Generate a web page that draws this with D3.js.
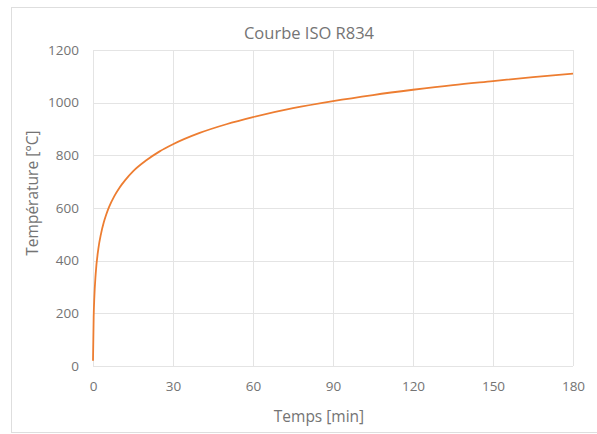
<!DOCTYPE html>
<html>
<head>
<meta charset="utf-8">
<script src="https://cdn.jsdelivr.net/npm/d3@7"></script>
<style>
  html, body { margin: 0; padding: 0; background: #fff; }
  svg { display: block; }
  text { font-family: "Open Sans", "Noto Sans", sans-serif; fill: #747474; }
</style>
</head>
<body>
<svg id="chart" width="597" height="434"></svg>
<script>
// Temps [min] and température [°C] of the standard fire curve
const timeMin = [0, 0.25, 0.5, 1, 2, 3, 4, 5, 6, 8, 10, 12, 15, 20, 25, 30, 40, 50, 60, 75, 90, 105, 120, 135, 150, 165, 180];
const tempC   = [20, 185, 261, 349, 445, 502, 544, 576, 603, 645, 678, 705, 739, 781, 815, 842, 885, 918, 945, 979, 1006, 1029, 1049, 1067, 1082, 1097, 1110];
const xTicks = [0, 30, 60, 90, 120, 150, 180];
const yTicks = [0, 200, 400, 600, 800, 1000, 1200];

const title = "Courbe ISO R834";
const xTitle = "Temps [min]";
const yTitle = "Température [°C]";

const svg = d3.select("#chart");
const plot = { left: 93, right: 573, top: 50, bottom: 366 };

const x = d3.scaleLinear().domain([0, 180]).range([plot.left, plot.right]);
const y = d3.scaleLinear().domain([0, 1200]).range([plot.bottom, plot.top]);

// chart frame
svg.append("rect")
  .attr("x", 11.5).attr("y", 7.5)
  .attr("width", 600).attr("height", 425)
  .attr("fill", "#fff").attr("stroke", "#dedede").attr("stroke-width", 1);

// gridlines
svg.append("g").selectAll("line").data(yTicks).join("line")
  .attr("x1", plot.left).attr("x2", plot.right)
  .attr("y1", d => Math.round(y(d)) + 0.5).attr("y2", d => Math.round(y(d)) + 0.5)
  .attr("stroke", "#e4e4e4").attr("stroke-width", 1);
svg.append("g").selectAll("line").data(xTicks).join("line")
  .attr("y1", plot.top).attr("y2", plot.bottom)
  .attr("x1", d => Math.round(x(d)) + 0.5).attr("x2", d => Math.round(x(d)) + 0.5)
  .attr("stroke", "#e4e4e4").attr("stroke-width", 1);

// axes (labels only)
const yAxis = svg.append("g")
  .attr("transform", `translate(${plot.left - 14},0)`)
  .call(d3.axisLeft(y).tickValues(yTicks).tickFormat(d3.format("d")).tickSize(0).tickPadding(0));
yAxis.select(".domain").remove();
yAxis.selectAll("text").style("font-size", "13.5px").attr("fill", "#747474");

const xAxis = svg.append("g")
  .attr("transform", `translate(0,${plot.bottom + 15})`)
  .call(d3.axisBottom(x).tickValues(xTicks).tickFormat(d3.format("d")).tickSize(0).tickPadding(0));
xAxis.select(".domain").remove();
xAxis.selectAll("text").style("font-size", "13.5px").attr("fill", "#747474");

// temperature curve
const line = d3.line()
  .x((d, i) => x(timeMin[i]))
  .y(d => y(d))
  .curve(d3.curveMonotoneX);
svg.append("path")
  .datum(tempC)
  .attr("d", line)
  .attr("fill", "none")
  .attr("stroke", "#ED7D31")
  .attr("stroke-width", 1.8)
  .attr("stroke-linejoin", "round");

// titles
svg.append("text")
  .attr("x", 309).attr("y", 39)
  .attr("text-anchor", "middle")
  .style("font-size", "16.5px")
  .text(title);

svg.append("text")
  .attr("x", 319).attr("y", 422)
  .attr("text-anchor", "middle")
  .style("font-size", "15.5px")
  .text(xTitle);

svg.append("text")
  .attr("transform", "translate(38,193) rotate(-90)")
  .attr("text-anchor", "middle")
  .style("font-size", "15.5px")
  .text(yTitle);
</script>
</body>
</html>
